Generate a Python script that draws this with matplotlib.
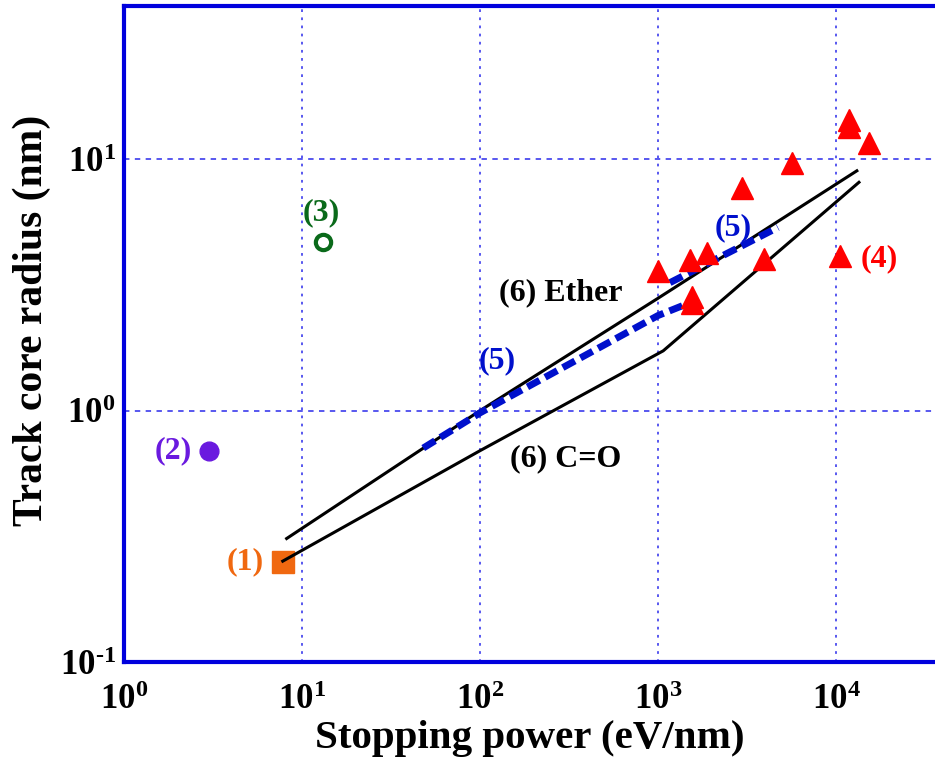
import numpy as np
import matplotlib.pyplot as plt
from matplotlib.ticker import LogLocator, NullLocator, FuncFormatter

plt.rcParams['font.family'] = ['Liberation Serif', 'DejaVu Serif']
plt.rcParams['font.weight'] = 'bold'
plt.rcParams['mathtext.fontset'] = 'custom'
plt.rcParams['mathtext.rm'] = 'Liberation Serif:bold'
plt.rcParams['mathtext.bf'] = 'Liberation Serif:bold'
plt.rcParams['mathtext.default'] = 'bf'

# (1) - (3) single points
p1_x, p1_y = [7.8], [0.25]
p2_x, p2_y = [3.0], [0.69]
p3_x, p3_y = [13.1], [4.7]

# (4) triangles
p4_x = [1000, 1514, 1884, 1550, 1550, 2965, 3944, 5660, 10530, 11830, 11830, 15300]
p4_y = [3.61, 3.96, 4.22, 2.82, 2.67, 7.66, 4.03, 9.64, 4.11, 14.3, 13.4, 11.6]

# (5) dashed curve, two pieces
p5a_x = [48, 100, 1000, 1514]
p5a_y = [0.71, 0.98, 2.39, 2.69]
p5b_x = [1167, 4720]
p5b_y = [3.23, 5.36]

# (6) model lines
ether_x = [8.2, 100, 1000, 13100]
ether_y = [0.31, 1.0, 2.8, 9.0]
co_x = [7.8, 100, 1070, 13460]
co_y = [0.252, 0.693, 1.73, 8.1]


def pow10(v, pos):
    e = int(round(np.log10(v)))
    if e < 0:
        return '10$^{\\text{-%d}}$' % (-e)
    return '10$^{%d}$' % e


fig = plt.figure(figsize=(9.35, 7.6), dpi=100)
ax = fig.add_axes([0.1326, 0.1289, 0.8674, 0.8631])
ax.set_xscale('log')
ax.set_yscale('log')
ax.set_xlim(1, 36000)
ax.set_ylim(0.1, 40.7)

blue = '#0000dd'
grid_c = '#4a4aee'
for d in [10, 100, 1000, 10000]:
    ax.axvline(d, color=grid_c, lw=1.3, ls=(0, (1.5, 3)), zorder=0)
for d in [1, 10]:
    ax.axhline(d, color=grid_c, lw=1.3, ls=(0, (3, 3)), zorder=0)

ax.plot(ether_x, ether_y, color='black', lw=2.2, zorder=2)
ax.plot(co_x, co_y, color='black', lw=2.2, zorder=2)

ax.plot(p5a_x, p5a_y, color='#0010cc', lw=5, dashes=(2, 0.9), zorder=3)
ax.plot(p5b_x, p5b_y, color='#0010cc', lw=5, dashes=(2, 0.9), zorder=3)

ax.plot(p4_x, p4_y, ls='none', marker='^', ms=15.5, color='#ff0000', zorder=4)
ax.plot(p1_x, p1_y, ls='none', marker='s', ms=15.5, color='#f06810', zorder=1)
ax.plot(p2_x, p2_y, ls='none', marker='o', ms=13.5, color='#6a1adf', zorder=4)
ax.plot(p3_x, p3_y, ls='none', marker='o', ms=11, mfc='white', mec='#0a6a1a',
        mew=3, zorder=4)

fs = 23
ax.text(4.79, 0.25, '(1)', color='#f06810', fontsize=fs, ha='center', va='center')
ax.text(1.88, 0.69, '(2)', color='#6a1adf', fontsize=fs, ha='center', va='center')
ax.text(12.9, 6.15, '(3)', color='#0a6a1a', fontsize=fs, ha='center', va='center')
ax.text(17460, 4.03, '(4)', color='#ff0000', fontsize=fs, ha='center', va='center')
ax.text(124.6, 1.58, '(5)', color='#0010cc', fontsize=fs, ha='center', va='center')
ax.text(2640, 5.36, '(5)', color='#0010cc', fontsize=fs, ha='center', va='center')
ax.text(285, 2.95, '(6) Ether', color='black', fontsize=fs, ha='center', va='center')
ax.text(304, 0.643, '(6) C=O', color='black', fontsize=fs, ha='center', va='center')

ax.xaxis.set_major_locator(LogLocator(base=10, numticks=10))
ax.yaxis.set_major_locator(LogLocator(base=10, numticks=10))
ax.xaxis.set_minor_locator(NullLocator())
ax.yaxis.set_minor_locator(NullLocator())
ax.xaxis.set_major_formatter(FuncFormatter(pow10))
ax.yaxis.set_major_formatter(FuncFormatter(pow10))
ax.tick_params(length=0, labelsize=25, pad=16)
ax.tick_params(axis='y', pad=6)

for s in ['left', 'bottom', 'top']:
    ax.spines[s].set_color(blue)
    ax.spines[s].set_linewidth(3)
ax.spines['right'].set_visible(False)

ax.set_xlabel('Stopping power (eV/nm)', fontsize=29.5, fontweight='bold', labelpad=2)
ax.set_ylabel('Track core radius (nm)', fontsize=30, fontweight='bold')
ax.yaxis.set_label_coords(-0.09, 0.521)

fig.savefig('out.png', dpi=100)
